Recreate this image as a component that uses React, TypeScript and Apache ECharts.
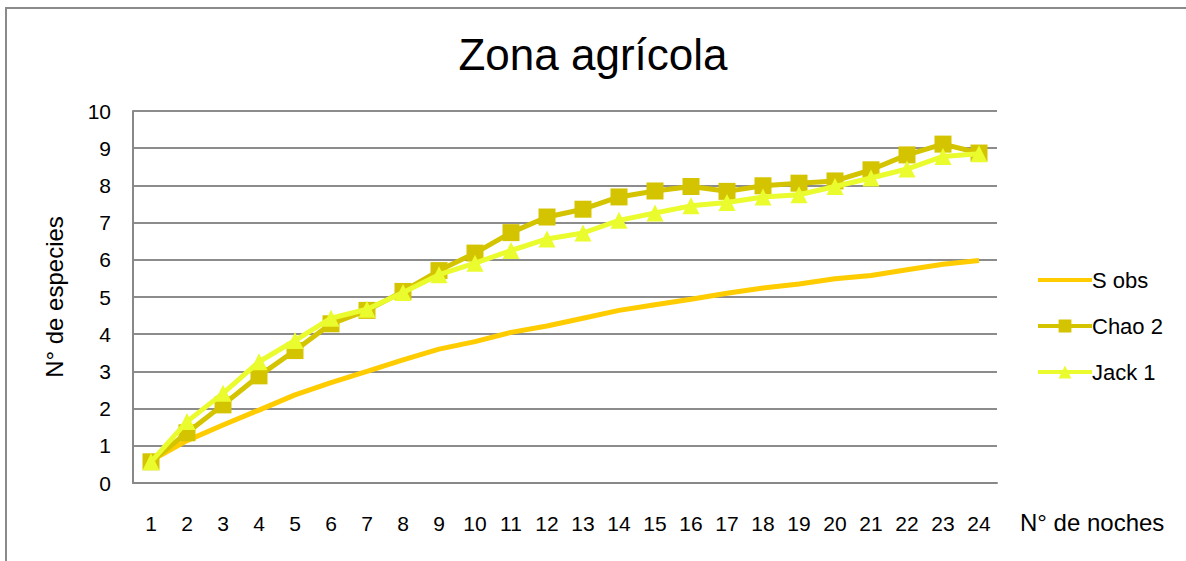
import React, { useEffect, useRef } from "react";
import * as echarts from "echarts";

const categories = ["1","2","3","4","5","6","7","8","9","10","11","12","13","14","15","16","17","18","19","20","21","22","23","24"];
const sobs = [0.6, 1.14, 1.56, 1.96, 2.37, 2.7, 3.0, 3.31, 3.6, 3.8, 4.05, 4.22, 4.43, 4.64, 4.79, 4.94, 5.1, 5.24, 5.35, 5.49, 5.58, 5.73, 5.88, 5.98];
const chao2 = [0.57, 1.35, 2.1, 2.88, 3.56, 4.28, 4.64, 5.15, 5.71, 6.18, 6.73, 7.15, 7.36, 7.69, 7.85, 7.97, 7.84, 7.99, 8.06, 8.12, 8.42, 8.82, 9.11, 8.87];
const jack1 = [0.57, 1.65, 2.41, 3.26, 3.83, 4.43, 4.67, 5.12, 5.6, 5.91, 6.25, 6.56, 6.72, 7.06, 7.26, 7.45, 7.54, 7.69, 7.75, 7.97, 8.2, 8.44, 8.78, 8.85];
const seriesNames = ["S obs", "Chao 2", "Jack 1"];
const titleText = "Zona agrícola";
const xName = "N° de noches";
const yName = "N° de especies";

const FONT = "'Liberation Sans', Arial, sans-serif";
const LINE_ICON = "path://M0,0 L0.1,0 L0.1,0.1 Z M0,6 L54,6 L54,10 L0,10 Z M53.9,16 L54,16 L54,15.9 Z";

export default function App() {
  const ref = useRef<HTMLDivElement>(null);
  useEffect(() => {
    if (!ref.current) return;
    const chart = echarts.init(ref.current, null, { renderer: "svg" });
    chart.setOption({
      animation: false,
      backgroundColor: "#ffffff",
      textStyle: { fontFamily: FONT, color: "#000" },
      title: {
        text: titleText,
        left: "center",
        top: 27,
        textStyle: { fontSize: 44, fontWeight: "normal", color: "#000", fontFamily: FONT },
      },
      grid: { left: 133, top: 111, width: 864, height: 372, containLabel: false },
      legend: {
        orient: "vertical",
        left: 1031,
        top: 264,
        itemWidth: 54,
        itemHeight: 16,
        itemGap: 24,
        lineStyle: { width: 4 },
        textStyle: { fontSize: 22, color: "#000", fontFamily: FONT, padding: [0, 0, 0, -5] },
        data: [
          { name: seriesNames[0], icon: LINE_ICON, itemStyle: { color: "#FFCC00" } },
          { name: seriesNames[1] },
          { name: seriesNames[2] },
        ],
      },
      xAxis: {
        type: "category",
        data: categories,
        boundaryGap: true,
        axisLine: { lineStyle: { color: "#888", width: 2 } },
        axisTick: { show: false },
        axisLabel: { fontSize: 21, color: "#000", margin: 30, fontFamily: FONT },
        splitLine: { show: false },
      },
      yAxis: {
        type: "value",
        min: 0,
        max: 10,
        interval: 1,
        name: yName,
        nameLocation: "middle",
        nameGap: 67,
        nameTextStyle: { fontSize: 24, color: "#000", fontFamily: FONT },
        axisLine: { show: true, lineStyle: { color: "#888", width: 2 } },
        axisTick: { show: false },
        axisLabel: { fontSize: 21, color: "#000", margin: 22, fontFamily: FONT },
        splitLine: { show: true, lineStyle: { color: "#8c8c8c", width: 2 } },
      },
      series: [
        {
          name: seriesNames[0],
          type: "line",
          data: sobs,
          showSymbol: false,
          symbol: "none",
          lineStyle: { color: "#FFCC00", width: 5 },
          itemStyle: { color: "#FFCC00" },
          z: 2,
        },
        {
          name: seriesNames[1],
          type: "line",
          data: chao2,
          symbol: "rect",
          symbolSize: 17,
          lineStyle: { color: "#D4C400", width: 5 },
          itemStyle: { color: "#D4C400" },
          z: 3,
        },
        {
          name: seriesNames[2],
          type: "line",
          data: jack1,
          symbol: "triangle",
          symbolSize: 17,
          lineStyle: { color: "#EAFB2E", width: 5 },
          itemStyle: { color: "#EAFB2E" },
          z: 4,
        },
      ],
      graphic: [
        {
          type: "rect",
          shape: { x: 6, y: 8, width: 1400, height: 800 },
          style: { fill: "none", stroke: "#8a8a8a", lineWidth: 2 },
          silent: true,
          z: -1,
        },
        {
          type: "text",
          left: 1020,
          top: 510,
          style: { text: xName, fontSize: 24, fill: "#000", fontFamily: FONT },
        },
      ],
    });
    return () => chart.dispose();
  }, []);
  return (
    <div
      ref={ref}
      style={{ position: "fixed", left: 0, top: 0, width: 1186, height: 561 }}
    />
  );
}
